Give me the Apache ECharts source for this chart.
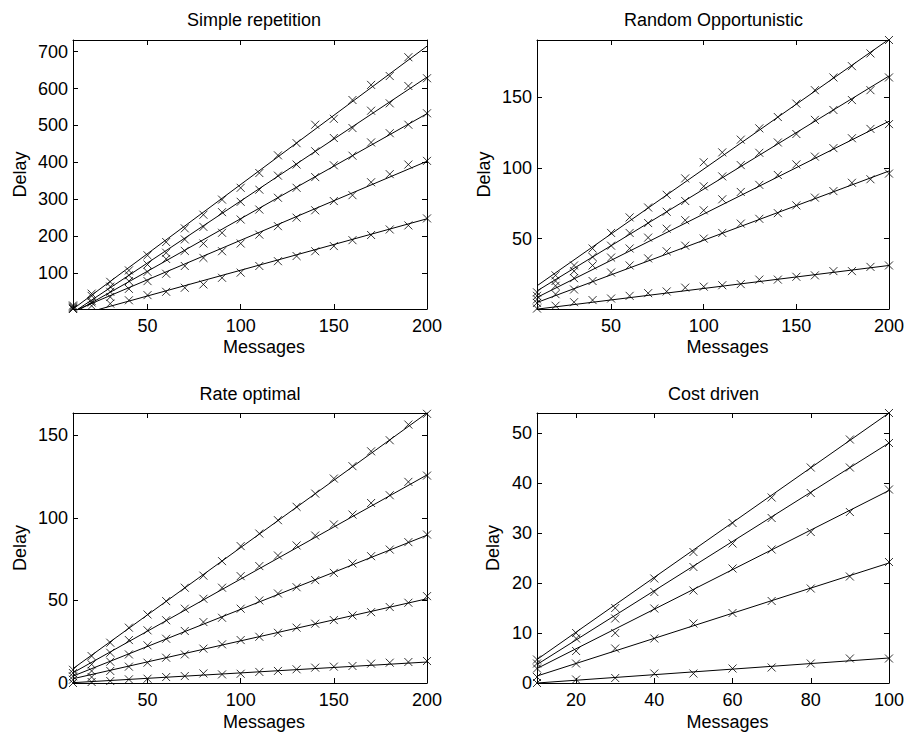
<!DOCTYPE html>
<html><head><meta charset="utf-8">
<script src="https://cdn.jsdelivr.net/npm/echarts@6/dist/echarts.min.js"></script>
<style>html,body{margin:0;padding:0;background:#fff}#c{width:907px;height:736px}</style>
</head><body><div id="c"></div>
<script>
// ---------- data ----------
const messages200 = [10,20,30,40,50,60,70,80,90,100,110,120,130,140,150,160,170,180,190,200];
const messages100 = [10,20,30,40,50,60,70,80,90,100];

// Simple repetition (measured points, x = messages200)
const simpleA = [12,44,76,107,148,184,221,258,299,331,371,419,452,502,518,569,610,634,685,null];
const simpleB = [9,38,63,94,123,155,191,225,265,293,326,364,394,430,466,493,540,560,607,628];
const simpleC = [6,24,49,78,103,138,160,180,209,245,272,304,331,360,392,418,454,479,502,533];
const simpleD = [4,20,35,57,78,98,119,141,159,180,204,227,250,270,295,311,346,368,394,404];
const simpleE = [2.4,11,17,26,40,49,60,69,87,101,119,132,146,159,173,189,203,218,229,248];
const simpleFitStart = [2.4,-7,-9,-4,-18];   // fitted line values at 10 messages
const simpleFitEnd = [715,631,532,403,247];  // fitted line values at 200 messages

// Random Opportunistic
const randomA = [12,24,31,43,54,65,72,81,92.6,104,111,120,128,136,145.5,155,164,172,181,190.5];
const randomB = [9.5,20,27,37,45,54,61,69,76.6,87,94,102,110.7,118,124,134,141,148,155,164];
const randomC = [7,16.6,22,31,36.6,43,50.7,57,63,70,77.8,83,88,95,102.5,108,114,121,127.6,131];
const randomD = [4.5,10.7,14,20,26,31,36,41,45,50,54,60.6,64,68,73.5,79,83.6,89.5,92,96];
const randomE = [0.5,2.5,5,6.5,7.6,9.5,11.4,12.6,15.3,16,17,17.8,21,21,23,24,27,27,30,31];
const randomFitStart = [16.6,13,8.4,4.8,0.1];
const randomFitEnd = [191,165,133,97.8,31];

// Rate optimal
const rateA = [8,16.3,24.4,33.5,41.5,49.6,57.7,65,73.8,82.9,90.5,98.6,106.7,114.7,123.8,131.3,140.3,147,156.5,163];
const rateB = [6,11.3,18.3,26,31.9,38,45,51,57.7,64.7,70.8,77.2,83.3,89.3,96,102,109,113.7,121.8,125.6];
const rateC = [4,7.3,12.9,17.3,22.8,26.8,31.5,36.9,39.5,45,50,54.2,58,62.3,66.7,72.4,76.8,80.8,85.3,89.9];
const rateD = [2,3.6,7.3,9.9,12.3,15.3,17.3,20.8,23.4,26,28,30.4,33.5,35.9,38.1,40.9,42.9,46,48.6,52.6];
const rateE = [0,0.6,1.2,2.2,2.6,3.6,4.2,5.8,5.2,5.6,6.7,7.3,8.3,9.3,9.9,10.3,11.7,12.3,12.7,13.3];
const rateFitStart = [8.7,6.2,4.2,2.6,0.2];
const rateFitEnd = [163.5,126,89.5,51,12.7];

// Cost driven (x = messages100)
const costA = [4.7,10,15,20.9,26.2,32,37.1,43.1,48.7,54];
const costB = [3.9,8.9,12.9,18.2,23.2,27.9,33,38,43.1,48];
const costC = [2.9,6.4,10,14.9,18.5,22.9,26.7,30.2,34.2,38.7];
const costD = [1.2,3.9,6.9,8.9,11.9,14,16.4,18.9,21.3,24.2];
const costE = [0,0.7,1.0,1.9,1.9,2.9,3.1,3.9,4.9,4.9];
const costFitStart = [4.7,3.7,2.9,1.4,0];
const costFitEnd = [54,48,38.5,24,5];

// tick labels
const ticksX200 = [50,100,150,200];
const ticksX100 = [20,40,60,80,100];
const ticksYSimple = [100,200,300,400,500,600,700];
const ticksYRandom = [50,100,150];
const ticksYRate = [0,50,100,150];
const ticksYCost = [0,10,20,30,40,50];
const titles = ['Simple repetition','Random Opportunistic','Rate optimal','Cost driven'];
const xLabel = 'Messages';
const yLabel = 'Delay';

// ---------- layout ----------
const FONT = '"Liberation Sans", Arial, Helvetica, sans-serif';
const panels = [
  {grid:{left:73,top:40,width:354,height:269}, xs:messages200, pts:[simpleA,simpleB,simpleC,simpleD,simpleE],
   fs:simpleFitStart, fe:simpleFitEnd, x:[10,200], y:[2.4,731.7], xt:ticksX200, yt:ticksYSimple,
   title:[254,20], xl:[264,347], yl:[20,174.5]},
  {grid:{left:537,top:40,width:353,height:269}, xs:messages200, pts:[randomA,randomB,randomC,randomD,randomE],
   fs:randomFitStart, fe:randomFitEnd, x:[10,200], y:[0.2,190.5], xt:ticksX200, yt:ticksYRandom,
   title:[713.5,20], xl:[727.5,347], yl:[483.5,174.5]},
  {grid:{left:73,top:413,width:354,height:270}, xs:messages200, pts:[rateA,rateB,rateC,rateD,rateE],
   fs:rateFitStart, fe:rateFitEnd, x:[10,200], y:[0,163.5], xt:ticksX200, yt:ticksYRate,
   title:[250,393.5], xl:[264,722], yl:[19.5,548]},
  {grid:{left:537,top:413,width:353,height:270}, xs:messages100, pts:[costA,costB,costC,costD,costE],
   fs:costFitStart, fe:costFitEnd, x:[10,100], y:[0,54], xt:ticksX100, yt:ticksYCost,
   title:[713.5,393.5], xl:[727.5,722], yl:[492.5,548]}
];

function axis(gridIndex, position, range, ticks, showLabel, margin) {
  return {
    type:'value', gridIndex, position, min:range[0], max:range[1],
    axisLine:{show:true, onZero:false, lineStyle:{color:'#000', width:1}},
    axisTick:{show:true, inside:true, length:5, customValues:ticks, lineStyle:{color:'#000', width:1}},
    axisLabel:{show:showLabel, customValues:ticks, color:'#000', fontSize:18, fontFamily:FONT, margin:margin},
    splitLine:{show:false}
  };
}

const grid = [], xAxis = [], yAxis = [], series = [], graphic = [];
const cross = 'path://M0,0L10,10M10,0L0,10';
const textStyle = (t) => ({text:t, font:'18px ' + FONT, fill:'#000', align:'center', verticalAlign:'middle'});

panels.forEach((p, i) => {
  grid.push(Object.assign({containLabel:false}, p.grid));
  xAxis.push(axis(i, 'bottom', p.x, p.xt, true, 8));
  xAxis.push(axis(i, 'top', p.x, p.xt, false, 8));
  yAxis.push(axis(i, 'left', p.y, p.yt, true, 5));
  yAxis.push(axis(i, 'right', p.y, p.yt, false, 5));
  const ax = 2 * i;
  p.pts.forEach((vals, k) => {
    series.push({
      type:'line', xAxisIndex:ax, yAxisIndex:ax, clip:true, silent:true,
      symbol:'none', lineStyle:{color:'#000', width:1},
      data:[[p.x[0], p.fs[k]], [p.x[1], p.fe[k]]]
    });
    series.push({
      type:'scatter', xAxisIndex:ax, yAxisIndex:ax, clip:false, silent:true,
      symbol:cross, symbolSize:8,
      itemStyle:{color:'none', borderColor:'#000', borderWidth:1},
      data:p.xs.map((x, j) => [x, vals[j]]).filter(d => d[1] !== null)
    });
  });
  graphic.push({type:'text', x:p.title[0], y:p.title[1], style:textStyle(titles[i])});
  graphic.push({type:'text', x:p.xl[0], y:p.xl[1], style:textStyle(xLabel)});
  graphic.push({type:'text', x:p.yl[0], y:p.yl[1], rotation:Math.PI/2, style:textStyle(yLabel)});
});

const chart = echarts.init(document.getElementById('c'), null, {renderer:'svg', width:907, height:736});
chart.setOption({animation:false, backgroundColor:'#fff', grid, xAxis, yAxis, series, graphic});
</script>
</body></html>
